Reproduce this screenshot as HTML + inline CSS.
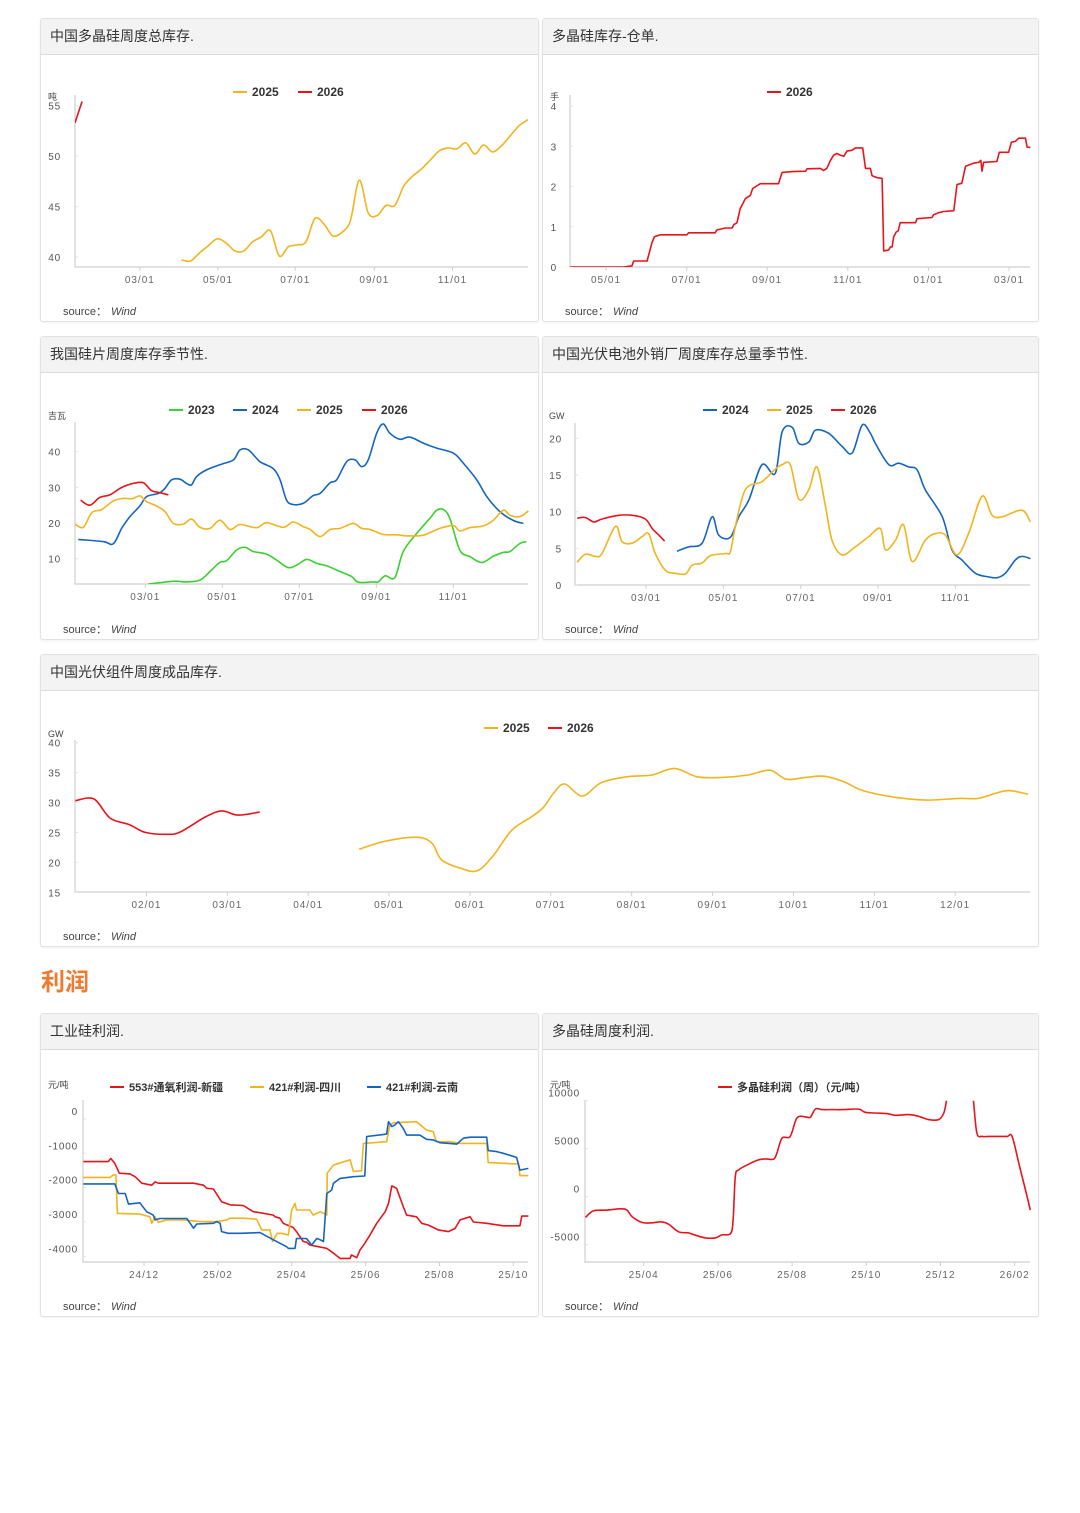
<!DOCTYPE html>
<html><head><meta charset="utf-8">
<style>
body{margin:0;background:#fff;width:1080px;height:1513px;position:relative;overflow:hidden;font-family:"Liberation Sans","Noto Sans CJK SC",sans-serif;}
.panel{position:absolute;border:1px solid #e2e2e2;border-radius:3px;background:#fff;box-shadow:0 1px 2px rgba(0,0,0,0.06);box-sizing:border-box;}
.hdr{height:35px;background:#f3f3f3;border-bottom:1px solid #dcdcdc;font-size:14px;color:#333;line-height:35px;padding-left:9px;}
.src{position:absolute;left:22px;font-size:11px;color:#444;}
.src i{margin-left:4px;}
#sec{position:absolute;left:41px;top:962px;font-size:24px;font-weight:bold;color:#ef7a30;}
svg#ov{position:absolute;left:0;top:0;}
</style></head><body>
<div class="panel" style="left:40px;top:18px;width:499px;height:304px"><div class="hdr">中国多晶硅周度总库存.</div><div class="src" style="top:284px">source：<i>Wind</i></div></div>
<div class="panel" style="left:542px;top:18px;width:497px;height:304px"><div class="hdr">多晶硅库存-仓单.</div><div class="src" style="top:284px">source：<i>Wind</i></div></div>
<div class="panel" style="left:40px;top:336px;width:499px;height:304px"><div class="hdr">我国硅片周度库存季节性.</div><div class="src" style="top:284px">source：<i>Wind</i></div></div>
<div class="panel" style="left:542px;top:336px;width:497px;height:304px"><div class="hdr">中国光伏电池外销厂周度库存总量季节性.</div><div class="src" style="top:284px">source：<i>Wind</i></div></div>
<div class="panel" style="left:40px;top:654px;width:999px;height:293px"><div class="hdr">中国光伏组件周度成品库存.</div><div class="src" style="top:273px">source：<i>Wind</i></div></div>
<div id="sec">利润</div>
<div class="panel" style="left:40px;top:1013px;width:499px;height:304px"><div class="hdr">工业硅利润.</div><div class="src" style="top:284px">source：<i>Wind</i></div></div>
<div class="panel" style="left:542px;top:1013px;width:497px;height:304px"><div class="hdr">多晶硅周度利润.</div><div class="src" style="top:284px">source：<i>Wind</i></div></div>
<svg id="ov" width="1080" height="1513" xmlns="http://www.w3.org/2000/svg"></svg>
<script>
// ===== Chart 1 data (weeks, 万吨) =====
const c1Ticks=[7.3,16.1,24.8,33.7,42.5];
const c1TickLabels=["03/01","05/01","07/01","09/01","11/01"];
const c1YTicks=[40,45,50,55];
const c1_2025x=[12,13,14,15,16,17,18,19,20,21,22,23,24,25,26,27,28,29,30,31,32,33,34,35,36,37,38,39,40,41,42,43,44,45,46,47,48,49,50,51];
const c1_2025y=[39.7,39.6,40.4,41.1,41.8,41.4,40.6,40.6,41.5,42,42.6,40.1,41,41.2,41.5,43.8,43.3,42.1,42.4,43.6,47.6,44.4,44.1,45.1,45.1,47,48,48.7,49.6,50.5,50.8,50.7,51.3,50.2,51.1,50.4,51,52,53,53.6];
const c1_2026x=[0,0.8];
const c1_2026y=[53.3,55.4];
// ===== Chart 2 data (months from 05/01, 手) =====
const c2Ticks=[0,2,4,6,8,10];
const c2TickLabels=["05/01","07/01","09/01","11/01","01/01","03/01"];
const c2YTicks=[0,1,2,3,4];
const c2x=[-0.885,0.44,0.645,0.687,1.02,1.14,1.2,1.35,2.01,2.05,2.71,2.75,2.96,3.13,3.17,3.25,3.33,3.46,3.58,3.64,3.83,4.28,4.37,4.62,4.95,4.99,5.32,5.4,5.48,5.57,5.65,5.73,5.81,5.9,5.98,6.1,6.19,6.37,6.44,6.56,6.6,6.72,6.85,6.89,7.01,7.06,7.1,7.14,7.2,7.25,7.3,7.68,7.72,8.09,8.13,8.25,8.38,8.63,8.71,8.83,8.92,9.04,9.12,9.25,9.3,9.33,9.37,9.7,9.76,9.99,10.06,10.16,10.24,10.41,10.45,10.53];
const c2y=[0,0,0.03,0.15,0.15,0.6,0.75,0.8,0.8,0.85,0.85,0.92,0.97,0.97,1.05,1.1,1.45,1.7,1.78,1.95,2.07,2.07,2.35,2.37,2.38,2.44,2.45,2.4,2.45,2.65,2.78,2.82,2.78,2.75,2.88,2.9,2.96,2.96,2.45,2.45,2.27,2.22,2.2,0.4,0.42,0.5,0.5,0.75,0.87,0.9,1.1,1.1,1.2,1.23,1.3,1.35,1.38,1.4,2.05,2.08,2.5,2.55,2.58,2.6,2.65,2.38,2.6,2.62,2.85,2.85,3.1,3.12,3.2,3.2,2.98,2.97];
// ===== Chart 3 data (months, GW) =====
const c3Ticks=[2,4,6,8,10];
const c3TickLabels=["03/01","05/01","07/01","09/01","11/01"];
const c3YTicks=[10,20,30,40];
const c3_2023x=[2.08,2.55,2.81,3.07,3.42,3.68,3.94,4.11,4.37,4.59,4.81,5.15,5.41,5.71,5.93,6.19,6.45,6.71,7.06,7.36,7.53,7.92,8.05,8.23,8.48,8.7,9.05,9.39,9.57,9.74,9.91,10.17,10.43,10.74,11.04,11.3,11.47,11.73,11.9];
const c3_2023y=[2.9,3.5,3.7,3.5,4,6.4,9,9.4,12.4,13.2,12,11.3,9.6,7.5,8.2,9.8,8.7,8,6.4,5,3.4,3.5,3.5,5.2,4.7,12,17.1,21.3,23.6,23.8,21.3,12.4,10.6,8.9,10.7,11.8,12,14.3,14.8];
const c3_2024x=[0.26,0.91,1.17,1.39,1.6,1.86,2.03,2.34,2.51,2.68,2.9,3.07,3.2,3.33,3.59,3.98,4.29,4.46,4.68,4.98,5.32,5.5,5.67,5.84,6.1,6.36,6.54,6.8,6.97,7.23,7.45,7.62,7.79,8.01,8.18,8.35,8.61,8.87,9.22,9.57,10,10.26,10.61,10.87,11.21,11.56,11.82];
const c3_2024y=[15.4,14.8,14.2,18.6,21.8,24.8,27.4,28.3,29.7,32.1,32.3,31.1,30.7,33,34.9,36.5,37.7,40.5,40.5,37.2,35.3,32.1,26.4,25.2,25.5,27.7,28.3,31.3,32.1,37.2,37.7,35.8,37.7,45.2,47.8,45.2,43.5,44.1,42.4,41,39.6,36.8,32.1,27.4,23.2,20.7,19.9];
const c3_2025x=[0.17,0.39,0.61,0.87,1.17,1.43,1.65,1.86,2.03,2.29,2.51,2.73,2.99,3.2,3.42,3.68,3.94,4.2,4.46,4.89,5.15,5.58,5.84,6.1,6.28,6.54,6.8,7.06,7.4,7.62,7.84,8.18,8.53,8.79,9.22,9.65,10,10.17,10.43,10.78,11.04,11.3,11.47,11.73,11.95];
const c3_2025y=[19.7,18.8,22.9,23.8,26.2,26.9,26.8,27.6,26,24.8,23.2,19.9,19.7,21.1,18.8,18.5,20.8,18.2,19.6,18.7,20.1,18.8,20.3,19,18.2,16.2,18.2,18.5,19.9,18.5,18.2,16.8,16.7,16.4,16.6,18.5,19.3,17.8,18.7,19.2,20.8,23.6,22.2,21.8,23.4];
const c3_2026x=[0.32,0.56,0.82,1.08,1.39,1.69,1.95,2.16,2.38,2.6];
const c3_2026y=[26.4,25,27.2,27.9,30,31.1,31.3,29.1,28.5,27.9];
// ===== Chart 4 data (months, GW) =====
const c4Ticks=[2,4,6,8,10];
const c4TickLabels=["03/01","05/01","07/01","09/01","11/01"];
const c4YTicks=[0,5,10,15,20];
const c4_2024x=[2.8,3.1,3.45,3.71,3.88,4.18,4.4,4.66,5,5.34,5.52,5.78,5.95,6.21,6.38,6.72,7.07,7.33,7.59,7.8,7.93,8.28,8.53,8.79,9.01,9.22,9.66,9.91,10.17,10.52,10.86,11.08,11.29,11.55,11.72,11.94];
const c4_2024y=[4.6,5.2,5.7,9.3,6.8,6.5,9.3,11.6,16.4,15.2,20.9,21.5,19.3,19.5,21.1,20.7,18.9,18,21.8,20.7,19.3,16.4,16.6,16.1,15.7,13,9.3,4.8,3.4,1.6,1.1,1,1.6,3.4,3.9,3.6];
const c4_2025x=[0.22,0.43,0.69,0.86,1.21,1.38,1.64,1.9,2.07,2.24,2.5,2.76,3.02,3.19,3.45,3.66,4.05,4.18,4.31,4.57,5,5.34,5.52,5.73,5.95,6.21,6.42,6.64,6.81,7.07,7.41,7.76,8.06,8.19,8.45,8.66,8.88,9.22,9.48,9.74,10.04,10.34,10.69,10.95,11.21,11.72,11.94];
const c4_2025y=[3.1,4.2,3.9,4.3,8,5.9,5.7,6.6,7,4.3,2,1.6,1.5,2.7,3,4,4.3,4.5,8,13,14.1,15.8,16.4,16.4,11.7,13,16.1,10.7,6.1,4.1,5.2,6.6,7.7,4.8,6.1,8.2,3.2,6.1,7,6.8,4.1,7,12.1,9.5,9.3,10.2,8.6];
const c4_2026x=[0.22,0.43,0.65,0.86,1.29,1.64,1.98,2.16,2.33,2.48];
const c4_2026y=[9.1,9.2,8.6,9,9.5,9.5,9,7.7,6.8,6];
// ===== Chart 5 data (months, GW) =====
const c5Ticks=[1,2,3,4,5,6,7,8,9,10,11];
const c5TickLabels=["02/01","03/01","04/01","05/01","06/01","07/01","08/01","09/01","10/01","11/01","12/01"];
const c5YTicks=[15,20,25,30,35,40];
const c5_2025x=[3.63,3.94,4.34,4.53,4.65,4.89,5.09,5.28,5.52,5.76,5.91,6.03,6.17,6.39,6.62,6.94,7.25,7.53,7.81,8.12,8.44,8.71,8.91,9.15,9.38,9.62,9.86,10.25,10.65,11.04,11.28,11.51,11.67,11.9];
const c5_2025y=[22.2,23.5,24.2,23.2,20.4,19,18.6,21,25.4,27.6,29.2,31.5,33.1,31.1,33.3,34.3,34.6,35.7,34.3,34.2,34.6,35.4,33.9,34.2,34.4,33.5,32,30.9,30.4,30.7,30.7,31.6,32,31.4];
const c5_2026x=[0.12,0.35,0.55,0.79,0.99,1.26,1.42,1.73,1.93,2.13,2.4];
const c5_2026y=[30.3,30.6,27.4,26.3,25,24.7,25.1,27.6,28.6,27.9,28.4];
// ===== Profit 1 data (months from 24/12, 元/吨) =====
const p1Ticks=[0,2,4,6,8,10];
const p1TickLabels=["24/12","25/02","25/04","25/06","25/08","25/10"];
const p1YTicks=[0,-1000,-2000,-3000,-4000];
const p1Redx=[-1.64,-0.97,-0.9,-0.79,-0.67,-0.38,-0.24,-0.06,0.21,0.3,0.39,0.79,1.34,1.61,1.7,1.88,2.1,2.33,2.69,2.96,3.14,3.5,3.55,3.68,3.77,4.04,4.13,4.31,4.4,4.49,4.72,4.95,5.13,5.31,5.58,5.62,5.76,5.85,5.98,6.12,6.3,6.53,6.62,6.71,6.84,7.02,7.11,7.38,7.52,7.7,7.97,8.24,8.42,8.56,8.83,8.92,9.28,9.73,10.18,10.23,10.41];
const p1Redy=[-1240,-1240,-1150,-1290,-1580,-1600,-1680,-1870,-1930,-1830,-1870,-1870,-1870,-1930,-2020,-2040,-2410,-2500,-2520,-2700,-2730,-2800,-2850,-2890,-3040,-3160,-3280,-3570,-3590,-3670,-3720,-3770,-3910,-4060,-4060,-3960,-4040,-3820,-3620,-3380,-3040,-2700,-2460,-1950,-2020,-2550,-2800,-2850,-3040,-3090,-3230,-3280,-3190,-2940,-2850,-3000,-3040,-3110,-3110,-2830,-2830];
const p1Orgx=[-1.64,-0.92,-0.83,-0.76,-0.72,-0.11,0.16,0.21,0.3,0.39,0.61,1.06,1.52,1.97,2.24,2.33,2.69,3.05,3.19,3.41,3.48,3.61,3.73,3.91,4,4.09,4.13,4.49,4.58,4.77,4.95,4.96,5.13,5.58,5.67,5.89,5.94,6.57,6.66,6.75,7.38,7.65,7.83,7.92,8.29,8.56,8.92,9.28,9.32,10.14,10.18,10.41];
const p1Orgy=[-1700,-1700,-1630,-1630,-2750,-2770,-2850,-3040,-2850,-3010,-2940,-2940,-2990,-2990,-2940,-2890,-2890,-2920,-3230,-3230,-3570,-3330,-3330,-3380,-2650,-2460,-2650,-2650,-2800,-2700,-2800,-1580,-1340,-1190,-1530,-1510,-710,-660,-170,-110,-80,-320,-370,-660,-660,-710,-710,-710,-1270,-1310,-1650,-1650];
const p1Bluex=[-1.64,-0.79,-0.69,-0.51,-0.42,-0.11,0.07,0.25,0.3,0.43,1.16,1.25,1.34,1.43,1.88,1.97,2.06,2.1,2.28,2.6,3.14,3.5,3.86,3.91,4.09,4.13,4.4,4.54,4.68,4.77,4.86,4.95,5.08,5.13,5.31,5.67,5.98,6.03,6.57,6.62,6.71,6.8,6.89,7.02,7.11,7.47,7.65,7.83,8.01,8.47,8.65,8.83,9.28,9.32,9.55,9.73,10.09,10.18,10.41];
const p1Bluey=[-1890,-1890,-2170,-2170,-2480,-2440,-2700,-2800,-2940,-2900,-2900,-3040,-3180,-3060,-3040,-2990,-3040,-3280,-3330,-3330,-3310,-3520,-3720,-3770,-3770,-3480,-3480,-3670,-3480,-3520,-3570,-2170,-2070,-1870,-1730,-1680,-1660,-510,-440,-80,-220,-170,-80,-270,-470,-470,-590,-610,-690,-730,-560,-530,-530,-920,-950,-1000,-1120,-1490,-1440];
// ===== Profit 2 data (months from 25/04, 元/吨) =====
const p2Ticks=[0,2,4,6,8,10];
const p2TickLabels=["25/04","25/06","25/08","25/10","25/12","26/02"];
const p2YTicks=[10000,5000,0,-5000];
const p2x=[-1.57,-1.35,-0.99,-0.63,-0.45,-0.31,-0.04,0.22,0.49,0.67,0.94,1.21,1.39,1.66,1.93,2.11,2.34,2.41,2.47,2.56,2.83,3.1,3.28,3.5,3.59,3.73,3.95,4.13,4.36,4.49,4.63,4.81,5.08,5.35,5.71,5.84,5.97,6.24,6.56,6.78,7.14,7.41,7.68,7.95,8.09,8.16,8.3,8.55,8.8,8.89,8.98,9.12,9.3,9.57,9.8,9.93,10.11,10.29,10.42];
const p2y=[-2160,-1470,-1400,-1260,-1400,-2090,-2690,-2720,-2620,-2860,-3660,-3770,-4010,-4290,-4290,-3980,-3840,-2440,2090,2790,3390,3840,3940,3910,4540,6110,6280,8200,8310,8270,9140,9070,9070,9070,9140,9070,8790,8720,8660,8480,8550,8380,8030,8030,8720,9950,13000,14000,13000,9950,6630,6280,6280,6280,6280,6280,3490,700,-1400];

const svg=document.getElementById('ov');
const NS='http://www.w3.org/2000/svg';
function mk(tag,attrs,parent){const e=document.createElementNS(NS,tag);for(const k in attrs)e.setAttribute(k,attrs[k]);(parent||svg).appendChild(e);return e;}
function lin(d0,d1,r0,r1){return v=>r0+(v-d0)*(r1-r0)/(d1-d0);}
function smoothPath(pts){
  if(pts.length<2)return '';
  let d='M'+pts[0][0].toFixed(1)+','+pts[0][1].toFixed(1);
  for(let i=0;i<pts.length-1;i++){
    const p0=pts[i-1]||pts[i],p1=pts[i],p2=pts[i+1],p3=pts[i+2]||p2;
    const c1x=p1[0]+(p2[0]-p0[0])/6,c1y=p1[1]+(p2[1]-p0[1])/6;
    const c2x=p2[0]-(p3[0]-p1[0])/6,c2y=p2[1]-(p3[1]-p1[1])/6;
    d+='C'+c1x.toFixed(1)+','+c1y.toFixed(1)+' '+c2x.toFixed(1)+','+c2y.toFixed(1)+' '+p2[0].toFixed(1)+','+p2[1].toFixed(1);
  }
  return d;
}
function linePath(pts){return pts.map((p,i)=>(i?'L':'M')+p[0].toFixed(1)+','+p[1].toFixed(1)).join('');}
let clipId=0;
function chart(cfg){
  const g=mk('g',{});
  
  
  const X=lin(cfg.xd[0],cfg.xd[1],cfg.xr[0],cfg.xr[1]);
  const Y=lin(cfg.yd[0],cfg.yd[1],cfg.yr[0],cfg.yr[1]);
  const ax=mk('path',{d:'M'+cfg.x0+','+cfg.top+'V'+cfg.bot+'H'+cfg.x1,stroke:'#cfcfcf','stroke-width':1.2,fill:'none'},g);
  
  
  cfg.xticks.forEach((t,i)=>{
    const x=X(t);
    const tk=mk('line',{x1:x,x2:x,y1:cfg.bot,y2:cfg.bot+4,stroke:'#cfcfcf'},g);
    
    
    const tx=mk('text',{x:x,y:cfg.bot+16,'text-anchor':'middle','font-size':10,fill:'#666','letter-spacing':1},g);
    tx.textContent=cfg.xlabels[i];
    
    
  });
  cfg.yticks.forEach(t=>{
    const y=Y(t);
    const tk=mk('line',{x1:cfg.x0,x2:cfg.x0+3,y1:y,y2:y,stroke:'#e0e0e0'},g);
    
    
    const tx=mk('text',{x:cfg.ylx,y:y-cfg.ylOff,'text-anchor':'end','font-size':10,fill:'#555','letter-spacing':0.8},g);
    tx.textContent=String(t);
    
    
  });
  const u=mk('text',{x:cfg.ux,y:cfg.uy,'font-size':9,fill:'#444'},g);
  u.textContent=cfg.unit;
  
  
  const id='clip'+(clipId++);
  const cp=mk('clipPath',{id:id},g);
  mk('rect',{x:cfg.x0,y:cfg.clipTop,width:cfg.x1-cfg.x0+2,height:cfg.bot-cfg.clipTop},cp);
  cfg.series.forEach(s=>{
    const pts=s.x.map((v,i)=>[X(v),Y(s.y[i])]);
    const p=mk('path',{d:cfg.smooth?smoothPath(pts):linePath(pts),stroke:s.color,'stroke-width':1.6,fill:'none','stroke-linejoin':'round','clip-path':'url(#'+id+')'},g);
    
    
  });
  cfg.legend.forEach(l=>{
    const lg=mk('g',{},g);
    
    
    mk('line',{x1:l.x,x2:l.x+14,y1:cfg.ly-4,y2:cfg.ly-4,stroke:l.color,'stroke-width':2},lg);
    const t=mk('text',{x:l.x+19,y:cfg.ly,'font-size':cfg.lfs||12,'font-weight':'bold',fill:'#333','font-family':'"Liberation Sans","Noto Sans CJK SC",sans-serif'},lg);
    t.textContent=l.label;
  });
}
const ORG='#f0b41e',RED='#e8141c',BLU='#1565c0',GRN='#3ad12e';
chart({name:'chart-polysilicon-inventory',x0:75,x1:528,top:95,bot:267,clipTop:95,xd:[0,51],xr:[75,528],yd:[40,55],yr:[257,105.5],
  xticks:c1Ticks,xlabels:c1TickLabels,yticks:c1YTicks,ylx:61,ylOff:-4,unit:'吨',ux:48,uy:100,smooth:true,ly:96,
  series:[{label:'2025',x:c1_2025x,y:c1_2025y,color:ORG},{label:'2026',x:c1_2026x,y:c1_2026y,color:RED}],
  legend:[{label:'2025',x:233,color:ORG},{label:'2026',x:298,color:RED}]});
chart({name:'chart-warehouse-receipts',x0:570,x1:1030,top:95,bot:267,clipTop:95,xd:[0,10],xr:[606,1009],yd:[0,4],yr:[267,106],
  xticks:c2Ticks,xlabels:c2TickLabels,yticks:c2YTicks,ylx:557,ylOff:-4,unit:'手',ux:550,uy:100,smooth:false,ly:96,
  series:[{label:'2026',x:c2x,y:c2y,color:RED}],legend:[{label:'2026',x:767,color:RED}]});
chart({name:'chart-wafer-inventory',x0:75,x1:528,top:422,bot:584,clipTop:418,xd:[0,10],xr:[68.3,453.3],yd:[10,40],yr:[558.7,451.7],
  xticks:c3Ticks,xlabels:c3TickLabels,yticks:c3YTicks,ylx:61,ylOff:-4,unit:'吉瓦',ux:48,uy:419,smooth:true,ly:414,
  series:[{label:'2023',x:c3_2023x,y:c3_2023y,color:GRN},{label:'2024',x:c3_2024x,y:c3_2024y,color:BLU},{label:'2025',x:c3_2025x,y:c3_2025y,color:ORG},{label:'2026',x:c3_2026x,y:c3_2026y,color:RED}],
  legend:[{label:'2023',x:169,color:GRN},{label:'2024',x:233,color:BLU},{label:'2025',x:297,color:ORG},{label:'2026',x:362,color:RED}]});
chart({name:'chart-cell-inventory',x0:575,x1:1030,top:423,bot:585,clipTop:420,xd:[0,10],xr:[568.7,955.4],yd:[0,20],yr:[585,438.3],
  xticks:c4Ticks,xlabels:c4TickLabels,yticks:c4YTicks,ylx:562,ylOff:-4,unit:'GW',ux:549,uy:419,smooth:true,ly:414,
  series:[{label:'2024',x:c4_2024x,y:c4_2024y,color:BLU},{label:'2025',x:c4_2025x,y:c4_2025y,color:ORG},{label:'2026',x:c4_2026x,y:c4_2026y,color:RED}],
  legend:[{label:'2024',x:703,color:BLU},{label:'2025',x:767,color:ORG},{label:'2026',x:831,color:RED}]});
chart({name:'chart-module-inventory',x0:75,x1:1030,top:740,bot:892,clipTop:738,xd:[0,10],xr:[65.6,874.3],yd:[15,40],yr:[892.3,742.7],
  xticks:c5Ticks,xlabels:c5TickLabels,yticks:c5YTicks,ylx:61,ylOff:-4,unit:'GW',ux:48,uy:737,smooth:true,ly:732,
  series:[{label:'2025',x:c5_2025x,y:c5_2025y,color:ORG},{label:'2026',x:c5_2026x,y:c5_2026y,color:RED}],
  legend:[{label:'2025',x:484,color:ORG},{label:'2026',x:548,color:RED}]});
chart({name:'chart-industrial-silicon-profit',x0:83,x1:528,top:1100,bot:1262,clipTop:1100,xd:[0,10],xr:[144,513.3],yd:[0,-4000],yr:[1119,1256.3],
  xticks:p1Ticks,xlabels:p1TickLabels,yticks:p1YTicks,ylx:78,ylOff:4,unit:'元/吨',ux:48,uy:1088,smooth:false,ly:1091,lfs:11,
  series:[{label:'553-xinjiang',x:p1Redx,y:p1Redy,color:RED},{label:'421-sichuan',x:p1Orgx,y:p1Orgy,color:ORG},{label:'421-yunnan',x:p1Bluex,y:p1Bluey,color:BLU}],
  legend:[{label:'553#通氧利润-新疆',x:110,color:RED},{label:'421#利润-四川',x:250,color:ORG},{label:'421#利润-云南',x:367,color:BLU}]});
chart({name:'chart-polysilicon-profit',x0:585,x1:1030,top:1100,bot:1262,clipTop:1100.7,xd:[0,10],xr:[643.7,1014.7],yd:[0,10000],yr:[1196.7,1100.7],
  xticks:p2Ticks,xlabels:p2TickLabels,yticks:p2YTicks,ylx:580,ylOff:4,unit:'元/吨',ux:550,uy:1088,smooth:true,ly:1091,lfs:11,
  series:[{label:'profit',x:p2x,y:p2y,color:RED}],legend:[{label:'多晶硅利润（周）（元/吨）',x:718,color:RED}]});
</script>
</body></html>
